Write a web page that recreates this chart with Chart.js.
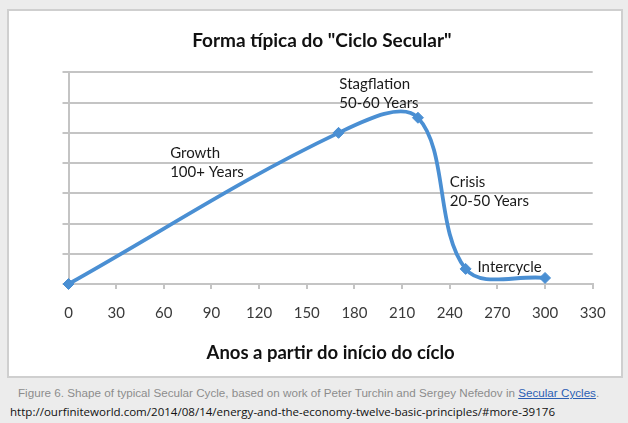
<!DOCTYPE html>
<html>
<head>
<meta charset="utf-8">
<script src="https://cdn.jsdelivr.net/npm/chart.js@4/dist/chart.umd.min.js"></script>
<style>
  html, body { margin:0; padding:0; width:628px; height:423px; overflow:hidden; background:#ececec; }
  #panel { position:absolute; left:7px; top:9px; width:616px; height:369px; box-sizing:border-box;
           background:#fff; border:2px solid #cfcfcf; }
  #wrap { position:absolute; left:51px; top:0; width:577px; height:378px; }
  .cap { position:absolute; white-space:nowrap; line-height:14px; }
  #cap1 { left:18px; top:386px; color:#8c8c8c; font-family:"Liberation Sans", Arial, sans-serif; font-size:12px; }
  #cap1 a { color:#2b5fb4; text-decoration:underline; }
  #cap2 { left:10px; top:405px; color:#111; font-family:"Open Sans", sans-serif; font-size:12px; }
</style>
</head>
<body>
<div id="panel"></div>
<div id="wrap"><canvas id="c" width="577" height="378"></canvas></div>
<div class="cap" id="cap1">Figure 6. Shape of typical Secular Cycle, based on work of Peter Turchin and Sergey Nefedov in <a>Secular Cycles</a>.</div>
<div class="cap" id="cap2">http://ourfiniteworld.com/2014/08/14/energy-and-the-economy-twelve-basic-principles/#more-39176</div>
<script>
// ---- data ----
const chartTitle = 'Forma típica do "Ciclo Secular"';
const xAxisTitle = 'Anos a partir do início do cíclo';
const years  = [0, 170, 220, 250, 300];
const levels = [0, 5, 5.5, 0.5, 0.2];
const xTicks = [0, 30, 60, 90, 120, 150, 180, 210, 240, 270, 300, 330];
const yGrid  = [0, 1, 2, 3, 4, 5, 6, 7];
const phaseLabels = [['Growth', '100+ Years'], ['Stagflation', '50-60 Years'], ['Crisis', '20-50 Years'], ['Intercycle']];
const phaseX = [64, 170.5, 240, 257.5];
const phaseY = [4.33, 6.62, 3.37, 0.55];

// ---- fit captions to reference widths ----
function fitWidth(el, target) {
  const w = el.getBoundingClientRect().width;
  const fs = parseFloat(getComputedStyle(el).fontSize);
  el.style.fontSize = (fs * target / w).toFixed(2) + 'px';
}
fitWidth(document.getElementById('cap1'), 582);
fitWidth(document.getElementById('cap2'), 545);

const gridColor = '#c4c4c4';
const blue = '#4a8fd3';

const phasePlugin = {
  id: 'phases',
  afterDatasetsDraw(chart) {
    const {ctx, scales: {x, y}} = chart;
    ctx.save();
    ctx.font = '15px Lato, sans-serif';
    ctx.fillStyle = '#1a1a1a';
    ctx.textAlign = 'left';
    ctx.textBaseline = 'middle';
    phaseLabels.forEach((lines, i) => {
      const px = x.getPixelForValue(phaseX[i]);
      const py = y.getPixelForValue(phaseY[i]);
      lines.forEach((t, j) => ctx.fillText(t, px, py + j * 19));
    });
    ctx.restore();
  }
};

new Chart(document.getElementById('c'), {
  type: 'scatter',
  data: {
    datasets: [{
      data: years.map((v, i) => ({x: v, y: levels[i]})),
      showLine: true,
      borderColor: blue,
      backgroundColor: blue,
      borderWidth: 3.8,
      tension: 0.36,
      capBezierPoints: false,
      pointStyle: 'rectRot',
      pointRadius: 5.5,
      pointBorderWidth: 1,
      clip: false
    }]
  },
  options: {
    responsive: false,
    animation: false,
    events: [],
    layout: { padding: { left: 0, right: 35.3, top: 0, bottom: 0 } },
    plugins: {
      legend: { display: false },
      tooltip: { enabled: false },
      title: {
        display: true,
        text: chartTitle,
        color: '#111',
        font: { family: 'Lato', weight: 'bold', size: 19, lineHeight: 1.2 },
        padding: { top: 29, bottom: 20.6 }
      }
    },
    scales: {
      x: {
        type: 'linear',
        min: 0, max: 330,
        afterBuildTicks(s) { s.ticks = xTicks.map(v => ({value: v})); },
        ticks: { color: '#3a3a3a', font: { family: 'Lato', size: 15, lineHeight: 3.2 }, padding: 0 },
        grid: { drawOnChartArea: false, drawTicks: true, tickLength: 5, color: gridColor, lineWidth: 2 },
        border: { display: true, color: gridColor, width: 2 },
        title: {
          display: true, text: xAxisTitle, color: '#111',
          font: { family: 'Lato', weight: 'bold', size: 18.5, lineHeight: 1.2 },
          padding: { top: 0, bottom: 14 }
        },
        afterFit(s) { s.height = 94; }
      },
      y: {
        type: 'linear',
        min: 0, max: 7,
        afterBuildTicks(s) { s.ticks = yGrid.map(v => ({value: v})); },
        ticks: { display: false },
        grid: { drawTicks: true, tickLength: 6, color: gridColor, lineWidth: 2 },
        border: { display: true, color: gridColor, width: 2 },
        afterFit(s) { s.width = 17.5; }
      }
    }
  },
  plugins: [phasePlugin]
});
</script>
</body>
</html>
